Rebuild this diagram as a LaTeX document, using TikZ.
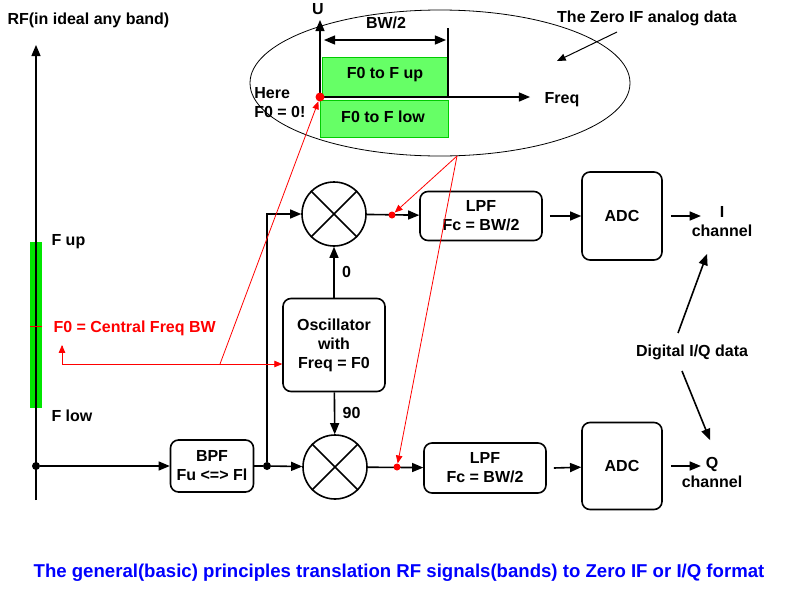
\documentclass[tikz,border=0pt]{standalone}
\usepackage{fontspec}
\setmainfont{Liberation Sans}
\usetikzlibrary{positioning,arrows,calc,shapes.geometric}
\definecolor{barg}{RGB}{0,230,0}
\definecolor{boxg}{RGB}{102,255,102}
\tikzset{
block/.style={
  draw,
  line width=1.6pt,
  rectangle,
  rounded corners=8pt,
  align=center
  },
line/.style={draw,line width=1.6pt},
mix/.style={draw,line width=1.6pt,circle,minimum size=64pt,inner sep=0pt},
lbl/.style={font=\fontsize{16}{19}\selectfont\bfseries,align=center},
red line/.style={draw,red,line width=0.8pt},
dot/.style={circle,fill,inner sep=0pt,minimum size=8pt}
}

\begin{document}
\begin{tikzpicture}[x=1pt,y=-1pt,>=triangle 45]
\useasboundingbox (0,0) rectangle (800,600);
% RF axis
\fill[barg] (30,242) rectangle (42,408);
\draw[line,->] (36,500) -- (36,45);
\draw[red,thick] (30,326) -- (42,326);
\node[lbl,anchor=west] (rf) at (4,20) {RF(in ideal any band)};
\node[lbl,anchor=west] (fup) at (48,242) {F up};
\node[lbl,anchor=west] (flow) at (48,416) {F low};
\node[lbl,anchor=west,text=red] (f0) at (50,328) {F0 = Central Freq BW};
% blocks
\node[dot] (in) at (36,466) {};
\node[block,lbl,minimum width=83pt,minimum height=52pt] (bpf) at (212,466) {BPF\\Fu <=> Fl};
\node[dot] (split) at (267,466) {};
\node[mix] (mixi) at (334,214) {};
\node[mix] (mixq) at (335,467) {};
\foreach \m in {mixi,mixq}
  \draw[line width=1.6pt] (\m.45) -- (\m.225) (\m.135) -- (\m.315);
\node[block,lbl,minimum width=102pt,minimum height=93pt] (osc) at (334,345) {Oscillator\\with\\Freq = F0};
\node[block,lbl,minimum width=122pt,minimum height=49pt] (lpfi) at (481,216) {LPF\\Fc = BW/2};
\node[block,lbl,minimum width=122pt,minimum height=50pt] (lpfq) at (485,468) {LPF\\Fc = BW/2};
\node[block,lbl,minimum width=80pt,minimum height=88pt] (adci) at (622,216) {ADC};
\node[block,lbl,minimum width=80pt,minimum height=87pt] (adcq) at (622,466) {ADC};
\node[lbl] (ich) at (722,222) {I\\channel};
\node[lbl] (qch) at (712,472) {Q\\channel};
\node[lbl] (iq) at (692,352) {Digital I/Q data};
% connectors
\draw[line,->] (in) -- (bpf);
\draw[line] (bpf) -- (split);
\draw[line,->] (split) -- (mixq);
\draw[line,->] (split) |- (mixi);
\draw[line,->] (osc) -- node[lbl,right=4pt] {0} (mixi);
\draw[line,->] (osc) -- node[lbl,right=4pt] {90} (mixq);
\draw[line,->] (mixi) -- (lpfi);
\draw[line,->] (mixq) -- (lpfq);
\draw[line,->] ([xshift=7pt]lpfi.east) -- (adci);
\draw[line,->] ([xshift=7pt]lpfq.east) -- (adcq);
\draw[line,->] ([xshift=8pt]adci.east) -- ++(30,0);
\draw[line,->] ([xshift=8pt]adcq.east) -- ++(30,0);
\draw[line,->] (iq.north) ++(-14,-8) -- (707,254);
\draw[line,->] (iq.south) ++(-10,8) -- (710,440);
% zero IF picture
\node[draw,ellipse,thick,minimum width=380pt,minimum height=146pt] (zone) at (440,83) {};
\fill[boxg] (322,57) rectangle (448,97);
\fill[boxg] (320,100) rectangle (448,137);
\draw[green!80!black] (322,57) rectangle (448,97) (320,100) rectangle (448,137);
\coordinate (org) at (320,97);
\draw[line,->] (org) -- (320,20);
\draw[line,->] (org) -- (530,97);
\draw[line] (448,28) -- (448,97);
\draw[line,<->] (324,40) -- (446,40);
\node[lbl] (u) at (318,9) {U};
\node[lbl] (freq) at (562,100) {Freq};
\node[lbl] (bw) at (386,23) {BW/2};
\node[lbl] (fu) at (385,75) {F0 to F up};
\node[lbl] (fl) at (383,117) {F0 to F low};
\node[lbl,align=left,anchor=east] (here) at (309,103) {Here\\F0 = 0!};
\node[lbl] (zif) at (647,18) {The Zero IF analog data};
\draw[line,line width=1pt,->] (617,32) -- (557,61);
% red marks
\node[dot,red,minimum size=9pt] (r0) at (org) {};
\node[dot,red,minimum size=7pt] (ri) at (392,215) {};
\node[dot,red,minimum size=7pt] (rq) at (397,467) {};
\coordinate (fa) at (62,364);
\coordinate (fb) at (220,364);
\coordinate (eb) at (457,156);
\draw[red line,->] (fa) -- (62,345);
\draw[red line,->] (fa) -- (osc.west |- fa);
\draw[red line,->] (fb) -- (r0);
\draw[red line,->] (eb) -- (ri);
\draw[red line,->] (eb) -- (rq);
\node[font=\fontsize{18.6}{21}\selectfont\bfseries,text=blue] (cap) at (399,573) {The general(basic) principles translation RF signals(bands) to Zero IF or I/Q format};
\end{tikzpicture}
\end{document}
